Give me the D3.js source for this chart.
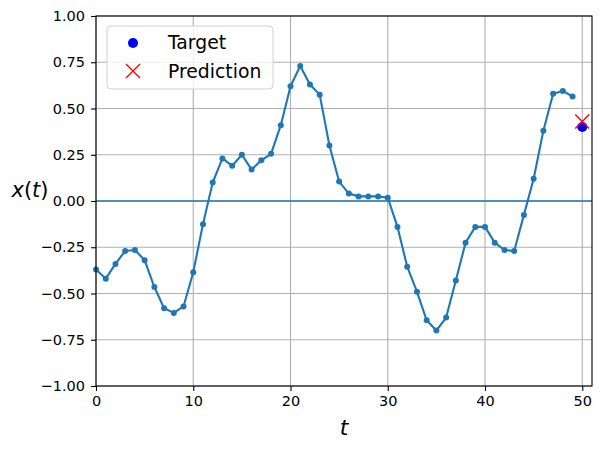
<!DOCTYPE html>
<html><head><meta charset="utf-8">
<script src="https://cdn.jsdelivr.net/npm/d3@7"></script>
<style>body{margin:0;background:#fff;} svg{display:block;font-family:"DejaVu Sans",sans-serif;}</style>
</head><body>
<script>
const steps = d3.range(0, 50);
const series = [-0.37,-0.42,-0.34,-0.27,-0.265,-0.32,-0.465,-0.58,-0.605,-0.57,
  -0.385,-0.125,0.10,0.23,0.19,0.25,0.17,0.22,0.255,0.41,
  0.62,0.73,0.63,0.575,0.30,0.105,0.04,0.025,0.025,0.025,
  0.018,-0.14,-0.355,-0.49,-0.645,-0.70,-0.63,-0.43,-0.225,-0.14,
  -0.14,-0.225,-0.265,-0.27,-0.075,0.12,0.38,0.58,0.595,0.565];
const targetT = 50, targetY = 0.40;
const predT = 50, predY = 0.43;
const xTicks = [0,10,20,30,40,50];
const yTicks = [-1,-0.75,-0.5,-0.25,0,0.25,0.5,0.75,1];

const W=602,H=449, L=96, R=592, T=16, B=386;
const svg=d3.select("body").append("svg").attr("width",W).attr("height",H);
const x=d3.scaleLinear().domain([0,51]).range([L,R]);
const y=d3.scaleLinear().domain([-1,1]).range([B,T]);
const blue="#1f77b4";

// grid
const g=svg.append("g");
g.selectAll(".gx").data(xTicks).join("line").attr("x1",d=>x(d)).attr("x2",d=>x(d)).attr("y1",T).attr("y2",B).attr("stroke","#b0b0b0").attr("stroke-width",1.1);
g.selectAll(".gy").data(yTicks).join("line").attr("y1",d=>y(d)).attr("y2",d=>y(d)).attr("x1",L).attr("x2",R).attr("stroke","#b0b0b0").attr("stroke-width",1.1);

// zero line
svg.append("line").attr("x1",L).attr("x2",R).attr("y1",y(0)).attr("y2",y(0)).attr("stroke",blue).attr("stroke-width",1.4);

// series
const line=d3.line().x((d,i)=>x(steps[i])).y(d=>y(d));
svg.append("path").datum(series).attr("d",line).attr("fill","none").attr("stroke",blue).attr("stroke-width",2.1).attr("stroke-linejoin","round");
svg.selectAll(".pt").data(series).join("circle").attr("cx",(d,i)=>x(steps[i])).attr("cy",d=>y(d)).attr("r",3).attr("fill",blue);

// target & prediction
svg.append("circle").attr("cx",x(targetT)).attr("cy",y(targetY)).attr("r",5).attr("fill","#0000ff");
const s=7;
svg.append("path").attr("d",`M${x(predT)-s},${y(predY)-s}L${x(predT)+s},${y(predY)+s}M${x(predT)-s},${y(predY)+s}L${x(predT)+s},${y(predY)-s}`).attr("stroke","#ff0000").attr("stroke-width",1.4).attr("fill","none");

// axes
const xa=svg.append("g").attr("transform",`translate(0,${B})`).call(d3.axisBottom(x).tickValues(xTicks).tickSize(5).tickPadding(5).tickFormat(d3.format("d")));
const ya=svg.append("g").attr("transform",`translate(${L},0)`).call(d3.axisLeft(y).tickValues(yTicks).tickSize(5).tickPadding(6).tickFormat(d3.format(".2f")));
[xa,ya].forEach(a=>{a.selectAll("text").attr("font-size",14.5).attr("font-family","DejaVu Sans").attr("fill","#000");a.selectAll("line").attr("stroke","#000").attr("stroke-width",1.1);a.select(".domain").remove();});
ya.selectAll("text").text(d=>d3.format(".2f")(d).replace("-","\u2212"));
svg.append("rect").attr("x",L).attr("y",T).attr("width",R-L).attr("height",B-T).attr("fill","none").attr("stroke","#000").attr("stroke-width",1.1);

// labels
svg.append("text").attr("x",(L+R)/2).attr("y",435).attr("text-anchor","middle").attr("font-size",22).attr("font-style","italic").attr("font-family","DejaVu Sans").text("t");
svg.append("text").attr("x",30).attr("y",197).attr("text-anchor","middle").attr("font-size",21).attr("font-family","DejaVu Sans").html('<tspan font-style="italic">x</tspan>(<tspan font-style="italic">t</tspan>)');

// legend
const lg=svg.append("g");
lg.append("rect").attr("x",107).attr("y",26).attr("width",166).attr("height",63).attr("rx",4).attr("fill","#fff").attr("fill-opacity",0.8).attr("stroke","#d0d0d0").attr("stroke-width",1);
lg.append("circle").attr("cx",133).attr("cy",43).attr("r",5).attr("fill","#0000ff");
lg.append("path").attr("d","M126,64L140,78M126,78L140,64").attr("stroke","#ff0000").attr("stroke-width",1.4);
lg.append("text").attr("x",168).attr("y",49).attr("font-size",18.8).text("Target");
lg.append("text").attr("x",168).attr("y",78).attr("font-size",18.8).text("Prediction");
</script>
</body></html>
